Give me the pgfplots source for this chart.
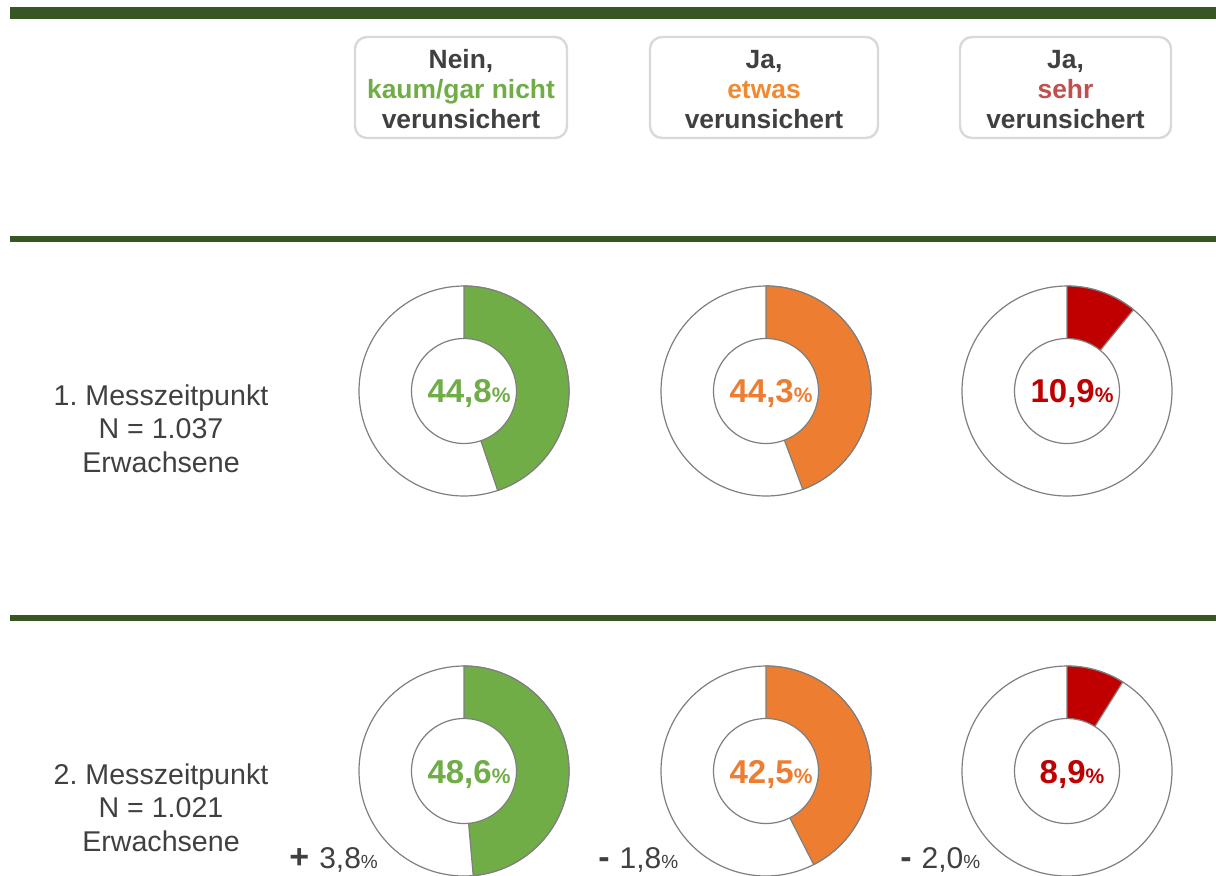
\documentclass[border=0pt]{standalone}
\usepackage{pgfplots}
\usepackage{pgfplotstable}
\pgfplotsset{compat=1.18}
\usepackage{fontspec}
\setmainfont{Liberation Sans}
\definecolor{dkgreen}{HTML}{375623}
\definecolor{cgreen}{HTML}{70AD47}
\definecolor{corange}{HTML}{ED7D31}
\definecolor{cred}{HTML}{C00000}
\definecolor{hgreen}{HTML}{70AD47}
\definecolor{horange}{HTML}{F4882F}
\definecolor{hred}{HTML}{C0504D}
\definecolor{txt}{HTML}{404040}
\definecolor{boxc}{HTML}{D9D9D9}
\definecolor{ring}{HTML}{7F7F7F}

\pgfplotstableread{
row cat value
1 nein 44.8
1 etwas 44.3
1 sehr 10.9
2 nein 48.6
2 etwas 42.5
2 sehr 8.9
}\shares

% #1 cx, #2 cy, #3 value (percent), #4 colour
\newcommand{\donut}[4]{%
  \addplot[draw=ring, fill=white, line width=0.6pt, domain=0:360, samples=140]
    ({#1+105*cos(x)},{#2+105*sin(x)}) -- cycle;
  \addplot[draw=ring, fill=#4, line width=0.6pt, domain=0:#3, samples=90]
    ({#1+105*sin(3.6*x)},{#2-105*cos(3.6*x)}) -- (#1,#2) -- cycle;
  \addplot[draw=ring, fill=white, line width=0.6pt, domain=0:360, samples=120]
    ({#1+52.5*cos(x)},{#2+52.5*sin(x)}) -- cycle;
}
\newcommand{\pct}[4]{% cx, baseline y, number, colour
  \node[anchor=base, inner sep=0pt, text=#4] at (axis cs:#1+5,#2)
    {\fontsize{16.5}{18}\selectfont\bfseries #3{\fontsize{10.5}{12}\selectfont\%}};
}
\newcommand{\chg}[3]{% x, sign, number
  \node[anchor=base west, inner sep=0pt, text=txt] at (axis cs:#1,868)
    {{\fontsize{17}{18}\selectfont\bfseries #2}\hspace{5pt}{\fontsize{15}{16}\selectfont #3}{\fontsize{9.5}{11}\selectfont\%}};
}

\begin{document}
\begin{tikzpicture}
\pgfplotstablegetelem{0}{value}\of\shares \edef\va{\pgfplotsretval}
\pgfplotstablegetelem{1}{value}\of\shares \edef\vb{\pgfplotsretval}
\pgfplotstablegetelem{2}{value}\of\shares \edef\vc{\pgfplotsretval}
\pgfplotstablegetelem{3}{value}\of\shares \edef\vd{\pgfplotsretval}
\pgfplotstablegetelem{4}{value}\of\shares \edef\ve{\pgfplotsretval}
\pgfplotstablegetelem{5}{value}\of\shares \edef\vf{\pgfplotsretval}
\begin{axis}[
  scale only axis, width=608pt, height=437.5pt,
  xmin=0, xmax=1216, ymin=0, ymax=875, y dir=reverse,
  hide axis, clip=true,
]
\coordinate (BL) at (rel axis cs:0,0);
\coordinate (TR) at (rel axis cs:1,1);
% separator bars
\addplot[draw=none, fill=dkgreen] coordinates {(10,7) (1216,7) (1216,19) (10,19)} -- cycle;
\addplot[draw=none, fill=dkgreen] coordinates {(10,236) (1216,236) (1216,242) (10,242)} -- cycle;
\addplot[draw=none, fill=dkgreen] coordinates {(10,615) (1216,615) (1216,621) (10,621)} -- cycle;

% header boxes
\node[draw=boxc, line width=1.2pt, rounded corners=6pt, minimum width=106pt, minimum height=50.5pt, inner sep=0pt]
  at (axis cs:461,87.5) {};
\node[draw=boxc, line width=1.2pt, rounded corners=6pt, minimum width=114pt, minimum height=50.5pt, inner sep=0pt]
  at (axis cs:764,87.5) {};
\node[draw=boxc, line width=1.2pt, rounded corners=6pt, minimum width=105.5pt, minimum height=50.5pt, inner sep=0pt]
  at (axis cs:1065.5,87.5) {};
\node[anchor=base, inner sep=0pt, align=center, text=txt, font=\fontsize{13.2}{15}\selectfont\bfseries]
  at (axis cs:461,128) {Nein,\\\textcolor{hgreen}{kaum/gar nicht}\\verunsichert};
\node[anchor=base, inner sep=0pt, align=center, text=txt, font=\fontsize{13.2}{15}\selectfont\bfseries]
  at (axis cs:764,128) {Ja,\\\textcolor{horange}{etwas}\\verunsichert};
\node[anchor=base, inner sep=0pt, align=center, text=txt, font=\fontsize{13.2}{15}\selectfont\bfseries]
  at (axis cs:1065.5,128) {Ja,\\\textcolor{hred}{sehr}\\verunsichert};

% row labels
\node[anchor=base, inner sep=0pt, align=center, text=txt, font=\fontsize{14.3}{16.75}\selectfont]
  at (axis cs:161,472) {1.\ Messzeitpunkt\\N = 1.037\\Erwachsene};
\node[anchor=base, inner sep=0pt, align=center, text=txt, font=\fontsize{14.3}{16.75}\selectfont]
  at (axis cs:161,851) {2.\ Messzeitpunkt\\N = 1.021\\Erwachsene};

% donuts row 1
\donut{464}{391}{\va}{cgreen}
\donut{766}{391}{\vb}{corange}
\donut{1067}{391}{\vc}{cred}
% donuts row 2
\donut{464}{771}{\vd}{cgreen}
\donut{766}{771}{\ve}{corange}
\donut{1067}{771}{\vf}{cred}

\pct{464}{402}{44,8}{cgreen}
\pct{766}{402}{44,3}{corange}
\pct{1067}{402}{10,9}{cred}
\pct{464}{783}{48,6}{cgreen}
\pct{766}{783}{42,5}{corange}
\pct{1067}{783}{8,9}{cred}

\chg{289}{+}{3,8}
\chg{598}{-}{1,8}
\chg{900}{-}{2,0}
\end{axis}
\pgfresetboundingbox
\path[use as bounding box] (BL) rectangle (TR);
\end{tikzpicture}
\end{document}
